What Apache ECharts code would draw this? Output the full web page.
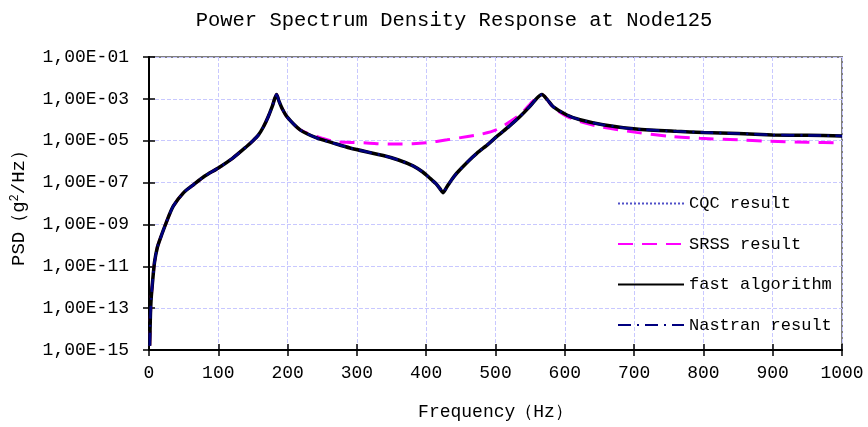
<!DOCTYPE html>
<html>
<head>
<meta charset="utf-8">
<script src="https://cdn.jsdelivr.net/npm/echarts@6/dist/echarts.min.js"></script>
<style>html,body{margin:0;padding:0;background:#fff}#c{width:868px;height:427px}</style>
</head>
<body>
<div id="c"></div>
<script>
// Frequencies (Hz) and PSD values (g^2/Hz)
var freqFast = [1,2,3,5,8,12,16,25,35,50,65,80,100,120,140,150,158,165,172,178,184,188,192,199,218,242,265,290,338,360,381,395,405,414,420,424,430,437,444,460,473,490,502,520,535,550,560,567,575,583,603,622,655,703,761,800,850,900,950,1000];
var fastPsd = [1.6e-15,4.0e-14,2.5e-13,1.6e-12,1.6e-11,7.9e-11,2.0e-10,1.26e-9,7.4e-9,3.3e-8,8.3e-8,2.0e-7,5.0e-7,1.4e-6,5.0e-6,1.0e-5,1.9e-5,4.5e-5,1.4e-4,4.5e-4,1.6e-3,7.1e-4,3.5e-4,1.4e-4,3.3e-5,1.35e-5,7.9e-6,4.5e-6,1.95e-6,1.2e-6,6.3e-7,3.2e-7,1.66e-7,8.9e-8,5.0e-8,3.3e-8,6.3e-8,1.4e-7,2.8e-7,1.0e-6,2.5e-6,7.1e-6,1.6e-5,5.0e-5,1.4e-4,4.5e-4,1.1e-3,1.6e-3,8.9e-4,4.3e-4,1.7e-4,1.0e-4,5.8e-5,3.6e-5,2.8e-5,2.5e-5,2.2e-5,1.9e-5,1.8e-5,1.7e-5];
// CQC and Nastran results coincide with the fast algorithm in the picture
var cqcPsd = fastPsd;
var nastranPsd = fastPsd;
var freqSrss = [1,2,3,5,8,12,16,25,35,50,65,80,100,120,140,150,158,165,172,178,184,188,192,199,218,242,266,290,314,348,381,400,430,460,478,500,525,540,554,567,575,583,603,627,655,703,752,795,850,892,950,1000];
var srssPsd = [1.6e-15,4.0e-14,2.5e-13,1.6e-12,1.6e-11,7.9e-11,2.0e-10,1.26e-9,7.4e-9,3.3e-8,8.3e-8,2.0e-7,5.0e-7,1.4e-6,5.0e-6,1.0e-5,1.9e-5,4.5e-5,1.4e-4,4.5e-4,1.6e-3,7.1e-4,3.5e-4,1.4e-4,3.3e-5,1.6e-5,9.3e-6,8.3e-6,7.8e-6,6.9e-6,7.1e-6,7.9e-6,1.1e-5,1.6e-5,2.0e-5,3.2e-5,1.0e-4,2.5e-4,7.9e-4,1.6e-3,8.9e-4,4.0e-4,1.45e-4,7.4e-5,4.4e-5,2.5e-5,1.6e-5,1.3e-5,1.1e-5,9.5e-6,8.5e-6,7.9e-6];
var xTicks = [0,100,200,300,400,500,600,700,800,900,1000];
var seriesNames = ['CQC result','SRSS result','fast algorithm','Nastran result'];

function zip(a,b){var r=[];for(var i=0;i<a.length;i++)r.push([a[i],b[i]]);return r;}
var FONT = 'Liberation Mono';
function yFmt(v){var e=Math.round(Math.log10(v));var s=Math.abs(e);return '1,00E'+(e<0?'-':'+')+(s<10?'0':'')+s;}

var chart = echarts.init(document.getElementById('c'));
var yBase = {type:'log',logBase:10,min:1e-15,max:1e-1,interval:2};
chart.setOption({
  animation:false,
  backgroundColor:'#fff',
  title:{text:'Power Spectrum Density Response at Node125',left:449,textAlign:'center',top:5,
    textStyle:{fontFamily:FONT,fontSize:20.5,fontWeight:'normal',color:'#000'}},
  grid:{left:149,right:26,top:57,bottom:77,show:true,borderColor:'#808080',borderWidth:2,
    containLabel:false,outerBoundsMode:'none'},
  legend:{orient:'vertical',left:612,top:190,itemWidth:66,itemHeight:14,itemGap:23.5,
    itemStyle:{opacity:0},
    textStyle:{fontFamily:FONT,fontSize:17,color:'#000'},data:seriesNames},
  xAxis:[{type:'value',min:0,max:1000,interval:100,
    name:'Frequency（Hz）',nameLocation:'middle',nameGap:53,
    nameTextStyle:{fontFamily:FONT,fontSize:18,color:'#000'},
    axisLine:{lineStyle:{color:'#000',width:2}},
    axisTick:{length:6,lineStyle:{color:'#000',width:1.5}},
    axisLabel:{fontFamily:FONT,fontSize:18,color:'#000',margin:14,
      formatter:function(v){return xTicks.indexOf(v)>=0?String(v):'';}},
    splitLine:{show:true,lineStyle:{color:'#c8c8ff',type:'dashed',width:1}}},
   {type:'value',min:0,max:1000,interval:100,position:'bottom',
    axisLine:{show:false},axisTick:{inside:true,length:6,lineStyle:{color:'#000',width:1.5}},
    axisLabel:{show:false},splitLine:{show:false}}],
  yAxis:[Object.assign({},yBase,{
    name:'PSD（g{sup|2}/Hz）',nameLocation:'middle',nameGap:121,nameRotate:90,
    nameTextStyle:{fontFamily:FONT,fontSize:19,color:'#000',padding:[0,0,0,0],
      rich:{sup:{fontFamily:FONT,fontSize:12,verticalAlign:'top',color:'#000'}}},
    axisLine:{show:true,lineStyle:{color:'#000',width:2}},
    axisTick:{show:true,length:6,lineStyle:{color:'#000',width:1.5}},
    axisLabel:{fontFamily:FONT,fontSize:18,color:'#000',margin:20,formatter:yFmt},
    splitLine:{show:true,lineStyle:{color:'#c8c8ff',type:'dashed',width:1}}}),
   Object.assign({},yBase,{position:'left',
    axisLine:{show:false},axisTick:{show:true,inside:true,length:6,lineStyle:{color:'#000',width:1.5}},
    axisLabel:{show:false},splitLine:{show:false}})],
  series:[
    {name:seriesNames[0],type:'line',symbol:'none',smooth:0.25,data:zip(freqFast,cqcPsd),
      lineStyle:{color:'#5050c8',width:1,type:'dotted'},itemStyle:{color:'#5050c8'}},
    {name:seriesNames[1],type:'line',symbol:'none',smooth:0.25,data:zip(freqSrss,srssPsd),
      lineStyle:{color:'#ff00ff',width:3,type:[15,9]},itemStyle:{color:'#ff00ff'}},
    {name:seriesNames[2],type:'line',symbol:'none',smooth:0.25,data:zip(freqFast,fastPsd),
      lineStyle:{color:'#000',width:3.5,type:'solid'},itemStyle:{color:'#000'}},
    {name:seriesNames[3],type:'line',symbol:'none',smooth:0.25,data:zip(freqFast,nastranPsd),
      lineStyle:{color:'#000080',width:2.5,type:[13,6,2,6]},itemStyle:{color:'#000080'}}
  ]
});
</script>
</body>
</html>
